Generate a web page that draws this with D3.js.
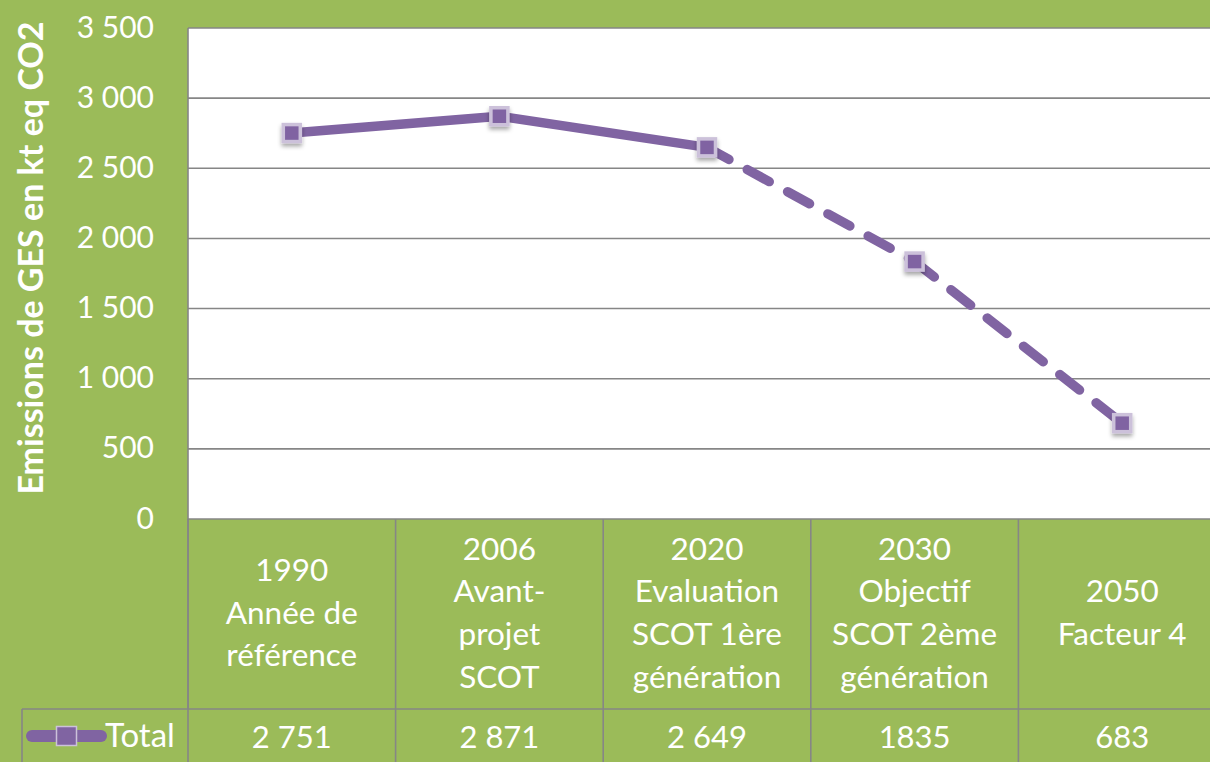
<!DOCTYPE html>
<html><head><meta charset="utf-8">
<script src="https://cdn.jsdelivr.net/npm/d3@7/dist/d3.min.js"></script>
<style>
html,body{margin:0;padding:0;background:#9BBB59;overflow:hidden;}
svg{display:block;}
text{font-family:Lato,"Open Sans",sans-serif;fill:#fff;}
</style></head>
<body>
<svg id="c" width="1210" height="762"></svg>
<script>
// ---- data ----
const categories = ["1990", "2006", "2020", "2030", "2050"];
const categoryLines = [
  ["1990", "Année de", "référence"],
  ["2006", "Avant-", "projet", "SCOT"],
  ["2020", "Evaluation", "SCOT 1ère", "génération"],
  ["2030", "Objectif", "SCOT 2ème", "génération"],
  ["2050", "Facteur 4"]
];
const totalValues = [2751, 2871, 2649, 1835, 683];
const totalLabels = ["2 751", "2 871", "2 649", "1835", "683"];
const yTicks = [0, 500, 1000, 1500, 2000, 2500, 3000, 3500];
const seriesName = "Total";
const yTitle = "Emissions de GES en kt eq CO2";
const firstDashedIndex = 2; // segments after this point are dashed

// ---- layout ----
const W = 1210, H = 762;
const plotL = 188, plotT = 28, plotB = 519, colW = 207.6;
const headerB = 709;
const grey = "#868686", purple = "#8064A2", markerEdge = "#CCC1DA";

const svg = d3.select("#c");
const loc = d3.formatLocale({decimal: ",", thousands: " ", grouping: [3], currency: ["", "€"]});
const fmt = loc.format(",d");

const x = d3.scaleBand().domain(categories).range([plotL, plotL + colW * categories.length]);
const y = d3.scaleLinear().domain([0, 3500]).range([plotB, plotT]);

const defs = svg.append("defs");
const f = defs.append("filter").attr("id", "sh").attr("x", "-50%").attr("y", "-50%").attr("width", "200%").attr("height", "200%");
f.append("feDropShadow").attr("dx", 0).attr("dy", 3).attr("stdDeviation", 2).attr("flood-color", "#000").attr("flood-opacity", 0.35);

// plot area
svg.append("rect").attr("x", plotL).attr("y", plotT).attr("width", W - plotL + 20).attr("height", plotB - plotT).attr("fill", "#fff");

// gridlines
svg.append("g").selectAll("line").data(yTicks).join("line")
  .attr("x1", plotL).attr("x2", W + 20)
  .attr("y1", d => y(d)).attr("y2", d => y(d))
  .attr("stroke", grey).attr("stroke-width", 1.6);
svg.append("line").attr("x1", plotL).attr("x2", plotL).attr("y1", plotT).attr("y2", headerB)
  .attr("stroke", grey).attr("stroke-width", 1.6);

// y axis labels
const yAxis = d3.axisLeft(y).tickValues(yTicks).tickFormat(fmt).tickSize(0).tickPadding(0);
const ga = svg.append("g").attr("transform", `translate(154,0)`).call(yAxis);
ga.select(".domain").remove();
ga.selectAll("text").attr("font-size", 30).attr("font-family", "Lato").attr("fill", "#fff").attr("dy", "0.3em");

// y title
svg.append("text").attr("transform", `translate(43,258) rotate(-90)`)
  .attr("text-anchor", "middle").attr("font-size", 34).attr("font-weight", "bold").text(yTitle);

// table: vertical lines
const bounds = categories.map(c => x(c)).concat([x.range()[1]]);
svg.append("g").selectAll("line").data(bounds.slice(1)).join("line")
  .attr("x1", d => d).attr("x2", d => d).attr("y1", plotB).attr("y2", H + 5)
  .attr("stroke", grey).attr("stroke-width", 1.6);
svg.append("line").attr("x1", plotL).attr("x2", plotL).attr("y1", plotB).attr("y2", H + 5).attr("stroke", grey).attr("stroke-width", 1.6);
// data row border
svg.append("line").attr("x1", 22).attr("x2", W + 20).attr("y1", headerB).attr("y2", headerB).attr("stroke", grey).attr("stroke-width", 1.6);
svg.append("line").attr("x1", 22).attr("x2", 22).attr("y1", headerB).attr("y2", H + 5).attr("stroke", grey).attr("stroke-width", 1.6);

// header labels
const lh = 42.7;
const hdr = svg.append("g").selectAll("text").data(categories).join("text")
  .attr("text-anchor", "middle").attr("font-size", 31.5)
  .attr("x", d => x(d) + x.bandwidth() / 2);
hdr.each(function(d, i) {
  const lines = categoryLines[i];
  const cy = 613;
  const start = cy - (lines.length - 1) * lh / 2;
  d3.select(this).selectAll("tspan").data(lines).join("tspan")
    .attr("x", x(d) + x.bandwidth() / 2)
    .attr("y", (l, j) => start + j * lh).attr("dy", "0.34em").text(l => l);
});

// value row
svg.append("g").selectAll("text").data(categories).join("text")
  .attr("text-anchor", "middle").attr("font-size", 31)
  .attr("x", d => x(d) + x.bandwidth() / 2).attr("y", 737).attr("dy", "0.34em")
  .text((d, i) => totalLabels[i]);

// legend
const lg = svg.append("g");
lg.append("line").attr("x1", 32).attr("x2", 101).attr("y1", 736).attr("y2", 736)
  .attr("stroke", purple).attr("stroke-width", 12).attr("stroke-linecap", "round");
lg.append("rect").attr("x", 56.5).attr("y", 726.5).attr("width", 20).attr("height", 19)
  .attr("fill", purple).attr("stroke", markerEdge).attr("stroke-width", 1.5);
lg.append("text").attr("x", 105).attr("y", 736).attr("dy", "0.34em").attr("font-size", 33).text(seriesName);

// line
const pts = categories.map((c, i) => [x(c) + x.bandwidth() / 2, y(totalValues[i])]);
const line = d3.line();
svg.append("path").attr("d", line(pts.slice(0, firstDashedIndex + 1)))
  .attr("fill", "none").attr("stroke", purple).attr("stroke-width", 9.5).attr("stroke-linejoin", "round");
const dashedSegs = d3.pairs(pts.slice(firstDashedIndex));
svg.append("g").selectAll("path").data(dashedSegs).join("path")
  .attr("d", d => line(d))
  .attr("fill", "none").attr("stroke", purple).attr("stroke-width", 9.5)
  .attr("stroke-linecap", "round").attr("stroke-dasharray", "25 21");

// markers
svg.append("g").selectAll("rect").data(pts).join("rect")
  .attr("x", d => d[0] - 8.5).attr("y", d => d[1] - 8.5).attr("width", 17).attr("height", 17)
  .attr("fill", purple).attr("stroke", markerEdge).attr("stroke-width", 3.5)
  .attr("filter", "url(#sh)");
</script>
</body></html>
